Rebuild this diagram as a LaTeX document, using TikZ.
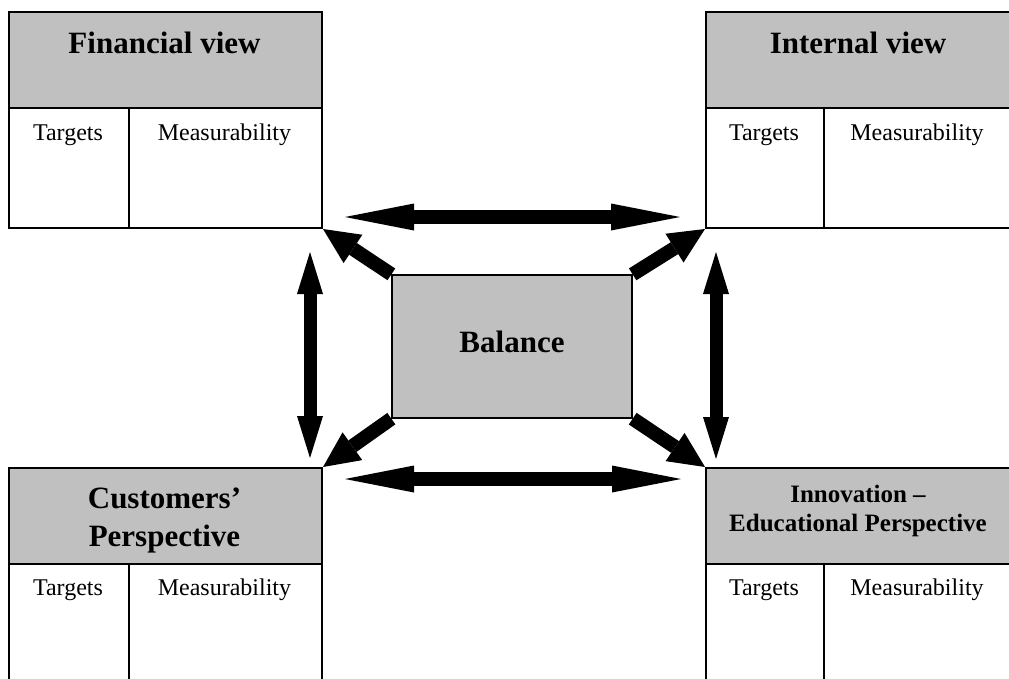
\documentclass[tikz,border=0pt]{standalone}
\usepackage{fontspec}
\setmainfont{Liberation Serif}
\usetikzlibrary{arrows.meta}
\definecolor{hgray}{RGB}{192,192,192}
\begin{document}
\begin{tikzpicture}[x=1pt,y=-1pt,
  hdr/.style={draw=black, line width=2pt, fill=hgray, anchor=north west, inner sep=0pt},
  cell/.style={draw=black, line width=2pt, fill=white, anchor=north west, inner sep=0pt},
  ttl/.style={font=\fontsize{31}{38}\selectfont\bfseries, align=center, inner sep=0pt},
  ttlsmall/.style={font=\fontsize{25}{29}\selectfont\bfseries, align=center, inner sep=0pt},
  lbl/.style={font=\fontsize{24}{28}\selectfont, inner sep=0pt},
  hbig/.style={line width=14pt, {Triangle[length=69pt,width=27pt,line width=0pt]}-{Triangle[length=69pt,width=27pt,line width=0pt]}},
  vbig/.style={line width=13pt, {Triangle[length=42pt,width=26pt,line width=0pt]}-{Triangle[length=42pt,width=26pt,line width=0pt]}},
  diag/.style={line width=14pt, -{Triangle[length=36pt,width=34pt,line width=0pt]}}
]
\useasboundingbox (0,0) rectangle (1009,678);

% Financial view
\node[hdr, minimum width=313pt, minimum height=96pt] (fh) at (8,11) {};
\node[cell, minimum width=120pt, minimum height=120pt] (ft) at (8,107) {};
\node[cell, minimum width=193pt, minimum height=120pt] (fm) at (128,107) {};
\node[ttl, anchor=base] (fhl) at (164.5,53) {Financial view};
\node[lbl, anchor=base] (ftl) at (68,140) {Targets};
\node[lbl, anchor=base] (fml) at (224.5,140) {Measurability};

% Internal view
\node[hdr, minimum width=306pt, minimum height=96pt] (ih) at (705,11) {};
\node[cell, minimum width=118pt, minimum height=120pt] (it) at (705,107) {};
\node[cell, minimum width=188pt, minimum height=120pt] (im) at (823,107) {};
\node[ttl, anchor=base] (ihl) at (858,53) {Internal view};
\node[lbl, anchor=base] (itl) at (764,140) {Targets};
\node[lbl, anchor=base] (iml) at (917,140) {Measurability};

% Customers' Perspective
\node[hdr, minimum width=313pt, minimum height=96pt] (ch) at (8,467) {};
\node[cell, minimum width=120pt, minimum height=130pt] (ct) at (8,563) {};
\node[cell, minimum width=193pt, minimum height=130pt] (cm) at (128,563) {};
\node[ttl, anchor=base] (chl) at (164.5,546) {Customers’\\Perspective};
\node[lbl, anchor=base] (ctl) at (68,595) {Targets};
\node[lbl, anchor=base] (cml) at (224.5,595) {Measurability};

% Innovation - Educational Perspective
\node[hdr, minimum width=306pt, minimum height=96pt] (nh) at (705,467) {};
\node[cell, minimum width=118pt, minimum height=130pt] (nt) at (705,563) {};
\node[cell, minimum width=188pt, minimum height=130pt] (nm) at (823,563) {};
\node[ttlsmall, anchor=base] (nhl) at (858,531) {Innovation –\\Educational Perspective};
\node[lbl, anchor=base] (ntl) at (764,595) {Targets};
\node[lbl, anchor=base] (nml) at (917,595) {Measurability};

% Arrows
\draw[hbig] ([xshift=22pt,yshift=12pt]fm.south east) -- ([xshift=-25pt,yshift=12pt]it.south west);
\draw[hbig] ([xshift=22pt,yshift=-12pt]ch.north east) -- ([xshift=-24pt,yshift=-12pt]nh.north west);
\draw[vbig] ([xshift=-13pt,yshift=-23pt]fm.south east) -- ([xshift=-13pt,yshift=9pt]ch.north east);
\draw[vbig] ([xshift=11pt,yshift=-23pt]it.south west) -- ([xshift=11pt,yshift=8pt]nh.north west);

% Balance
\node[draw=black, line width=1.3pt, fill=hgray, minimum width=240pt, minimum height=143pt, inner sep=0pt] (bal) at (512,346.5) {};
\node[ttl, anchor=base] (ball) at (512,352) {Balance};

\draw[diag] (bal.north west) -- (fm.south east);
\draw[diag] (bal.north east) -- (it.south west);
\draw[diag] (bal.south west) -- (ch.north east);
\draw[diag] (bal.south east) -- (nh.north west);
\end{tikzpicture}
\end{document}
